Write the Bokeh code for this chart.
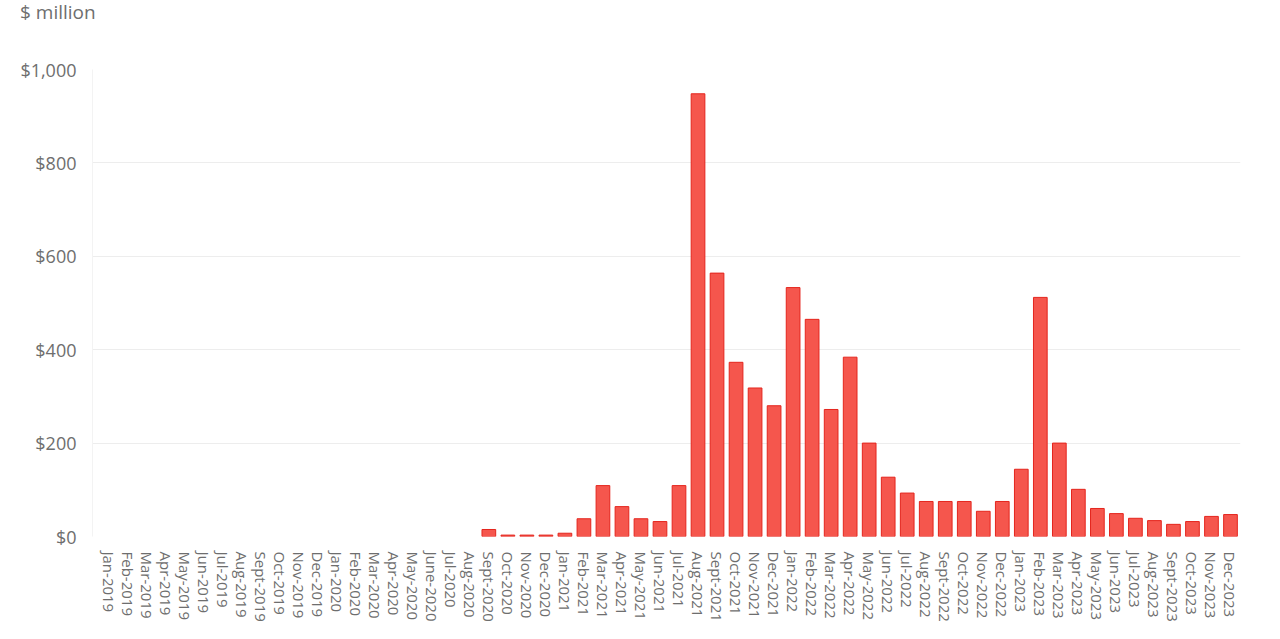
import numpy as np
from bokeh.plotting import figure
from bokeh.layouts import column
from bokeh.models import Range1d, FixedTicker, NumeralTickFormatter, ColumnDataSource, Div
from bokeh.embed import file_html
from bokeh.resources import INLINE

months = ["Jan-2019", "Feb-2019", "Mar-2019", "Apr-2019", "May-2019", "Jun-2019", "Jul-2019",
          "Aug-2019", "Sept-2019", "Oct-2019", "Nov-2019", "Dec-2019",
          "Jan-2020", "Feb-2020", "Mar-2020", "Apr-2020", "May-2020", "June-2020", "Jul-2020",
          "Aug-2020", "Sept-2020", "Oct-2020", "Nov-2020", "Dec-2020",
          "Jan-2021", "Feb-2021", "Mar-2021", "Apr-2021", "May-2021", "Jun-2021", "Jul-2021",
          "Aug-2021", "Sept-2021", "Oct-2021", "Nov-2021", "Dec-2021",
          "Jan-2022", "Feb-2022", "Mar-2022", "Apr-2022", "May-2022", "Jun-2022", "Jul-2022",
          "Aug-2022", "Sept-2022", "Oct-2022", "Nov-2022", "Dec-2022",
          "Jan-2023", "Feb-2023", "Mar-2023", "Apr-2023", "May-2023", "Jun-2023", "Jul-2023",
          "Aug-2023", "Sept-2023", "Oct-2023", "Nov-2023", "Dec-2023"]

values = [0, 0, 0, 0, 0, 0, 0, 0, 0, 0, 0, 0,
          0, 0, 0, 0, 0, 0, 0, 0, 15, 3, 3, 3,
          7, 38, 109, 64, 38, 32, 109, 948, 564, 373, 318, 280,
          533, 465, 272, 384, 200, 127, 93, 75, 75, 75, 54, 75,
          144, 512, 200, 101, 60, 49, 39, 34, 26, 32, 43, 47]

y_ticks = [0, 200, 400, 600, 800, 1000]

idx = list(range(len(months)))
keep = [i for i, v in enumerate(values) if v > 0]
src = ColumnDataSource(dict(x=keep, top=[values[i] for i in keep]))

FONT = "Open Sans"
GRAY = "#6e6e6e"

header = Div(text="$ million", width=1280, height=30,
             styles={"font-family": FONT, "font-size": "19px", "color": GRAY,
                     "line-height": "24px", "padding-left": "20px", "margin": "0",
                     "background": "white"})

p = figure(width=1280, height=609, output_backend="svg", toolbar_location=None,
           x_range=Range1d(-0.5 - 6.5 / 19.0, len(months) - 0.5 + 0.5 / 19.0),
           y_range=Range1d(0, 1000),
           min_border_left=92, min_border_right=40, min_border_top=39, min_border_bottom=103)

p.vbar(x="x", top="top", width=0.72, bottom=0, source=src,
       fill_color="#f5564d", line_color="#e4251d", line_width=1)

p.outline_line_color = None
p.background_fill_color = "white"
p.border_fill_color = "white"

p.xgrid.grid_line_color = None
p.ygrid.grid_line_color = "#ededed"
p.ygrid.ticker = FixedTicker(ticks=y_ticks)

p.yaxis.ticker = FixedTicker(ticks=y_ticks)
p.yaxis.formatter = NumeralTickFormatter(format="$0,0")
p.yaxis.axis_line_color = "#f3f3f3"
p.yaxis.major_tick_line_color = None
p.yaxis.minor_tick_line_color = None
p.yaxis.major_label_text_font = FONT
p.yaxis.major_label_text_font_size = "18px"
p.yaxis.major_label_text_color = GRAY
p.yaxis.major_label_standoff = 10

p.xaxis.ticker = FixedTicker(ticks=idx)
p.xaxis.major_label_overrides = {i: m for i, m in enumerate(months)}
p.xaxis.major_label_orientation = "vertical"
p.xaxis.axis_line_color = None
p.xaxis.major_tick_line_color = None
p.xaxis.minor_tick_line_color = None
p.xaxis.major_label_text_font = FONT
p.xaxis.major_label_text_font_size = "15px"
p.xaxis.major_label_text_color = GRAY
p.xaxis.major_label_standoff = 9

layout = column(header, p, spacing=0)
open("out.html", "w").write(file_html(layout, INLINE))
